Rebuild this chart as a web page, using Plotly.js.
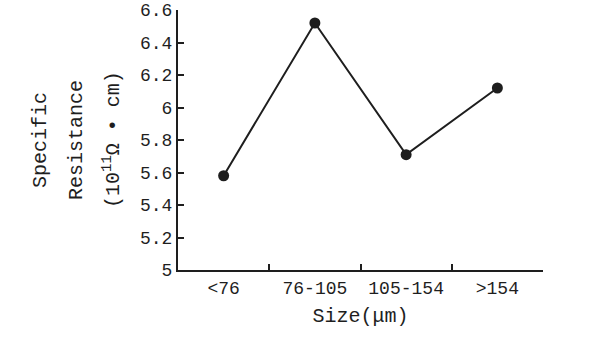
<!DOCTYPE html>
<html><head><meta charset="utf-8">
<script src="https://cdn.plot.ly/plotly-3.0.1.min.js"></script>
<style>html,body{margin:0;padding:0;background:#fff;}#chart{width:601px;height:348px;}</style>
</head><body><div id="chart"></div>
<script>
var categories = ["<76", "76-105", "105-154", ">154"];
var resistance = [5.58, 6.52, 5.71, 6.12];
var yTicks = [5, 5.2, 5.4, 5.6, 5.8, 6, 6.2, 6.4, 6.6];
var yTitleLines = ["Specific", "Resistance", "(10<sup>11</sup>Ω • cm)"];
var xTitle = "Size(μm)";

var FONT = "Liberation Mono, DejaVu Sans Mono, monospace";
var ink = "#1e1e1e";

var trace = {
  type: "scatter", mode: "lines+markers",
  x: categories, y: resistance,
  line: {color: ink, width: 2},
  marker: {color: ink, size: 11},
  cliponaxis: false
};

var plotL = 178, plotW = 601 - 178 - 58;
var centers = [40, 76, 112];
var annotations = yTitleLines.map(function (t, i) {
  return {text: t, xref: "paper", yref: "paper", x: (centers[i] - plotL) / plotW, y: 0.5,
    xanchor: "center", yanchor: "middle", textangle: -90, showarrow: false,
    font: {family: FONT, size: 20, color: ink}};
});

var layout = {
  width: 601, height: 348,
  margin: {l: 178, r: 58, t: 10, b: 78},
  paper_bgcolor: "#fff", plot_bgcolor: "#fff",
  showlegend: false,
  font: {family: FONT, size: 18, color: ink},
  xaxis: {
    type: "category", range: [-0.5, 3.5], tickson: "boundaries",
    ticks: "inside", ticklen: 6, tickwidth: 2, tickcolor: ink,
    showline: true, linecolor: ink, linewidth: 2, showgrid: false, zeroline: false,
    tickfont: {family: FONT, size: 18, color: ink},
    title: {text: xTitle, font: {family: FONT, size: 20, color: ink}, standoff: 10}
  },
  yaxis: {
    range: [5, 6.6], tickvals: yTicks, ticktext: yTicks.map(String),
    ticks: "inside", ticklen: 6, tickwidth: 2, tickcolor: ink,
    showline: true, linecolor: ink, linewidth: 2, showgrid: false, zeroline: false,
    tickfont: {family: FONT, size: 18, color: ink}
  },
  annotations: annotations
};

Plotly.newPlot("chart", [trace], layout, {displayModeBar: false, staticPlot: true});
</script></body></html>
